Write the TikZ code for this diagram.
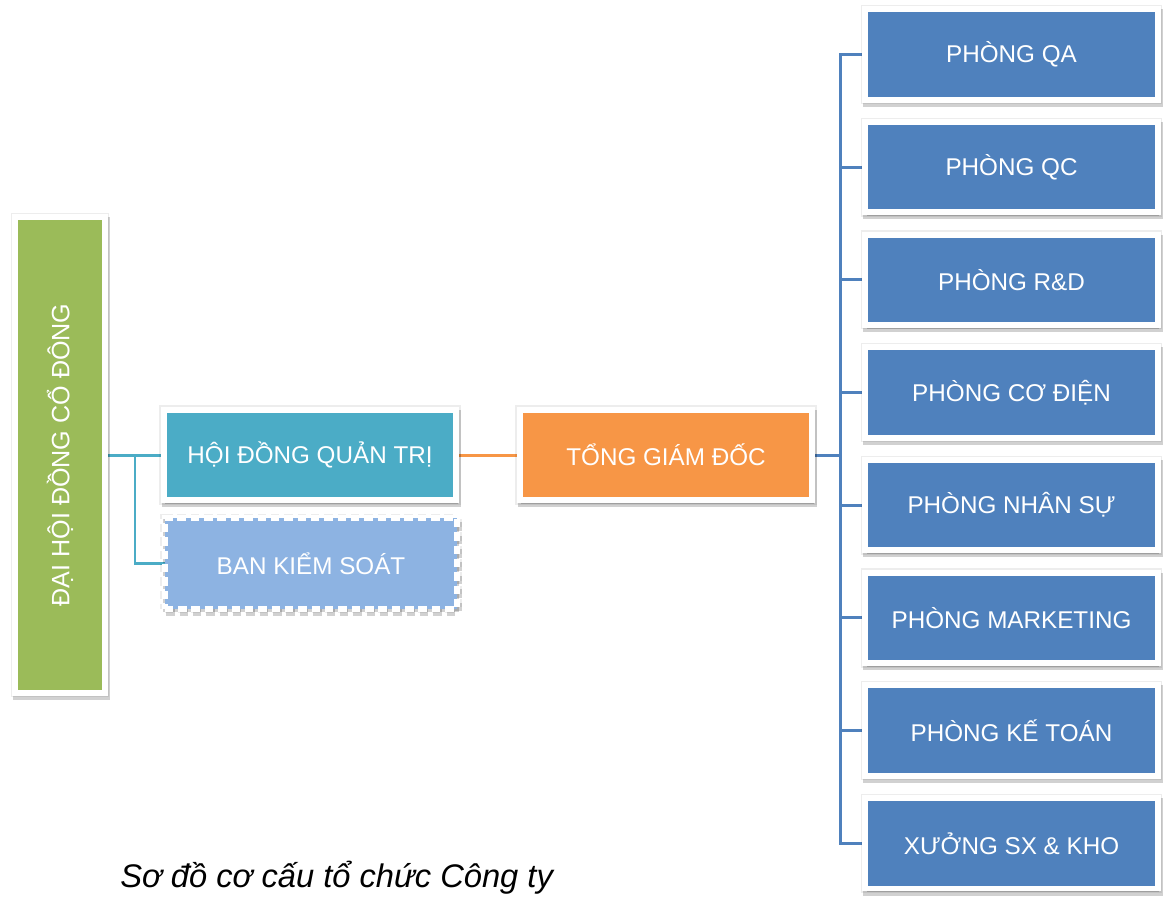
\documentclass[tikz,border=0pt]{standalone}
\usepackage{fontspec}
\setmainfont{Liberation Sans}
\usetikzlibrary{positioning, shadows, backgrounds}

\definecolor{dhgreen}{HTML}{9BBB59}
\definecolor{hdteal}{HTML}{4BACC6}
\definecolor{tgorange}{HTML}{F79646}
\definecolor{deptblue}{HTML}{4F81BD}
\definecolor{bkslight}{HTML}{8DB3E2}
\definecolor{bksedge}{HTML}{7393C6}

\begin{document}
\begin{tikzpicture}[
  x=0.02cm, y=-0.02cm,
  node distance=0.444cm,
  box/.style={draw=white, line width=3.4pt, minimum width=5.85cm, minimum height=1.81cm, outer sep=0pt, align=center, text=white, font=\fontsize{13.8}{16}\selectfont,
    general shadow={fill=black, draw=black, line width=5pt, opacity=0.07},
    general shadow={fill=black, draw=black, line width=4pt, opacity=0.18, shadow xshift=0.03cm, shadow yshift=-0.07cm}},
  dept/.style={box, fill=deptblue},
  link/.style={line width=1.7pt},
  caption/.style={font=\fontsize{18.6}{22}\selectfont\itshape, inner sep=0pt}
]
\clip (0,0) rectangle (1165,896);

% left column
\node[box, fill=dhgreen, minimum width=1.8cm, minimum height=9.52cm] (dhcd) at (60,455) {};
\node[rotate=90, text=white, font=\fontsize{14.3}{16}\selectfont] (dhcdtext) at (dhcd) {ĐẠI HỘI ĐỒNG CỔ ĐÔNG};

\node[box, fill=hdteal] (hdqt) at (310,455) {HỘI ĐỒNG QUẢN TRỊ};
\node[box, fill=bkslight, draw=white, dash pattern=on 4.8pt off 2.8pt, preaction={draw=bksedge, line width=3.4pt}] (bks) at (311,563.5) {BAN KIỂM SOÁT};

\node[box, fill=tgorange] (tgd) at (666,455) {TỔNG GIÁM ĐỐC};

% departments
\node[dept] (qa) at (1011.5,54.5) {PHÒNG QA};
\node[dept, below=of qa] (qc) {PHÒNG QC};
\node[dept, below=of qc] (rd) {PHÒNG R\&D};
\node[dept, below=of rd] (cd) {PHÒNG CƠ ĐIỆN};
\node[dept, below=of cd] (ns) {PHÒNG NHÂN SỰ};
\node[dept, below=of ns] (mk) {PHÒNG MARKETING};
\node[dept, below=of mk] (kt) {PHÒNG KẾ TOÁN};
\node[dept, below=of kt] (xs) {XƯỞNG SX \& KHO};

\node[caption, anchor=base west] (cap) at (120,887) {Sơ đồ cơ cấu tổ chức Công ty};

\coordinate (lj) at (135,455);
\coordinate (bus) at (840,455);

\begin{scope}[on background layer]
\fill[white] (0,0) rectangle (1165,896);
\draw[link, hdteal] (dhcd.east) -- (hdqt.west);
\draw[link, hdteal] (lj) |- (bks.west);
\draw[link, tgorange] (hdqt.east) -- (tgd.west);
\draw[link, deptblue] (tgd.east) -- (bus);
\foreach \d in {qa,qc,rd,cd,ns,mk,kt,xs}
  \draw[link, deptblue] (bus) |- (\d.west);
\end{scope}
\end{tikzpicture}
\end{document}
